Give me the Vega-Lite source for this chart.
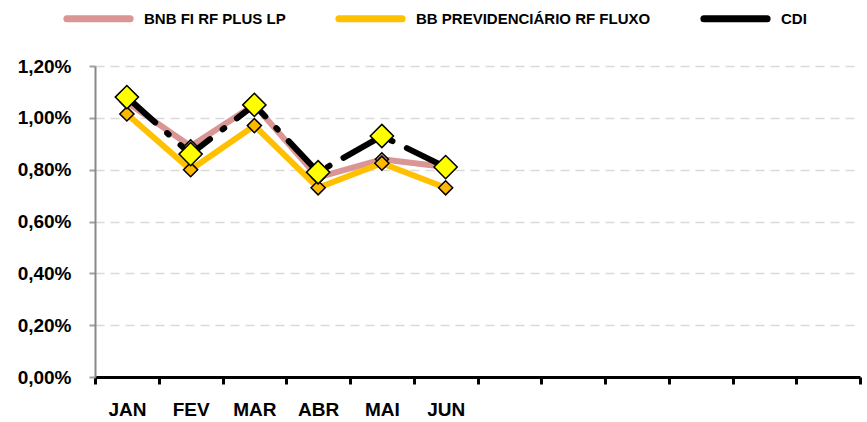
{
  "$schema": "https://vega.github.io/schema/vega-lite/v6.json",
  "width": 765,
  "height": 311,
  "autosize": {"type": "none"},
  "padding": {"left": 95, "top": 66, "right": 7, "bottom": 45},
  "background": "white",
  "config": {
    "view": {"stroke": null},
    "font": "Liberation Sans"
  },
  "data": {
    "values": [
      {"mes": "JAN", "serie": "BNB FI RF PLUS LP", "valor": 0.0106},
      {"mes": "FEV", "serie": "BNB FI RF PLUS LP", "valor": 0.0089},
      {"mes": "MAR", "serie": "BNB FI RF PLUS LP", "valor": 0.0105},
      {"mes": "ABR", "serie": "BNB FI RF PLUS LP", "valor": 0.0077},
      {"mes": "MAI", "serie": "BNB FI RF PLUS LP", "valor": 0.0084},
      {"mes": "JUN", "serie": "BNB FI RF PLUS LP", "valor": 0.0081},
      {"mes": "JAN", "serie": "BB PREVIDENCIÁRIO RF FLUXO", "valor": 0.01015},
      {"mes": "FEV", "serie": "BB PREVIDENCIÁRIO RF FLUXO", "valor": 0.0080},
      {"mes": "MAR", "serie": "BB PREVIDENCIÁRIO RF FLUXO", "valor": 0.0097},
      {"mes": "ABR", "serie": "BB PREVIDENCIÁRIO RF FLUXO", "valor": 0.0073},
      {"mes": "MAI", "serie": "BB PREVIDENCIÁRIO RF FLUXO", "valor": 0.00825},
      {"mes": "JUN", "serie": "BB PREVIDENCIÁRIO RF FLUXO", "valor": 0.0073},
      {"mes": "JAN", "serie": "CDI", "valor": 0.0108},
      {"mes": "FEV", "serie": "CDI", "valor": 0.0086},
      {"mes": "MAR", "serie": "CDI", "valor": 0.0105},
      {"mes": "ABR", "serie": "CDI", "valor": 0.0079},
      {"mes": "MAI", "serie": "CDI", "valor": 0.0093},
      {"mes": "JUN", "serie": "CDI", "valor": 0.0081}
    ]
  },
  "encoding": {
    "x": {
      "field": "mes",
      "type": "nominal",
      "sort": null,
      "scale": {"domain": ["JAN","FEV","MAR","ABR","MAI","JUN","JUL","AGO","SET","OUT","NOV","DEZ"], "paddingInner": 0, "paddingOuter": 0},
      "axis": {
        "title": null,
        "labelAngle": 0,
        "labelExpr": "indexof(['JAN','FEV','MAR','ABR','MAI','JUN'], datum.value) >= 0 ? datum.value : ''",
        "labelFont": "Liberation Sans",
        "labelFontWeight": "bold",
        "labelFontSize": 19,
        "labelColor": "black",
        "labelPadding": 16,
        "tickBand": "extent",
        "tickColor": "black",
        "tickWidth": 3,
        "tickSize": 7,
        "domainColor": "black",
        "domainWidth": 3,
        "grid": false
      }
    },
    "y": {
      "field": "valor",
      "type": "quantitative",
      "scale": {"domain": [0, 0.012], "nice": false, "zero": true},
      "axis": {
        "title": null,
        "values": [0, 0.002, 0.004, 0.006, 0.008, 0.010, 0.012],
        "labelExpr": "replace(format(datum.value, '.2%'), '.', ',')",
        "labelFont": "Liberation Sans",
        "labelFontWeight": "bold",
        "labelFontSize": 19,
        "labelColor": "black",
        "labelPadding": 18,
        "tickColor": "#a0a0a0",
        "tickSize": 6,
        "tickWidth": 2,
        "domainColor": "#888888",
        "domainWidth": 2,
        "grid": true,
        "gridColor": "#d9d9d9",
        "gridWidth": 1.5,
        "gridDash": [9, 6]
      }
    },
    "color": {
      "field": "serie",
      "type": "nominal",
      "sort": null,
      "scale": {"domain": ["BNB FI RF PLUS LP", "BB PREVIDENCIÁRIO RF FLUXO", "CDI"], "range": ["#d99694", "#ffc000", "#000000"]},
      "legend": {
        "title": null,
        "orient": "none",
        "legendX": -32,
        "legendY": -83,
        "direction": "horizontal",
        "columns": 3,
        "columnPadding": 38,
        "symbolType": "M-1,0L1,0",
        "symbolStrokeWidth": 7,
        "symbolSize": 4000,
        "labelFont": "Liberation Sans",
        "labelFontWeight": "bold",
        "labelFontSize": 15,
        "labelColor": "black",
        "labelOffset": 10,
        "labelLimit": 400,
        "encode": {
          "symbols": {
            "update": {
              "size": {"value": 4000},
              "shape": {"value": "M-1,0L1,0"},
              "strokeWidth": {"value": 7},
              "strokeCap": {"value": "round"}
            }
          }
        }
      }
    }
  },
  "layer": [
    {
      "transform": [{"filter": "datum.serie !== 'CDI'"}],
      "mark": {"type": "line", "strokeWidth": 6, "strokeCap": "butt", "strokeJoin": "round"}
    },
    {
      "transform": [{"filter": "datum.serie === 'CDI'"}],
      "mark": {"type": "line", "strokeWidth": 6, "strokeCap": "round", "strokeJoin": "round", "strokeDash": [38, 16, 2, 16]}
    },
    {
      "transform": [{"filter": "datum.serie === 'BNB FI RF PLUS LP'"}],
      "mark": {"type": "point", "shape": "diamond", "filled": true, "fill": "#d99694", "stroke": "black", "strokeWidth": 1.5, "opacity": 1, "size": 170}
    },
    {
      "transform": [{"filter": "datum.serie === 'BB PREVIDENCIÁRIO RF FLUXO'"}],
      "mark": {"type": "point", "shape": "diamond", "filled": true, "fill": "#ffb800", "stroke": "black", "strokeWidth": 1.5, "opacity": 1, "size": 200}
    },
    {
      "transform": [{"filter": "datum.serie === 'CDI'"}],
      "mark": {"type": "point", "shape": "diamond", "filled": true, "fill": "#ffff00", "stroke": "black", "strokeWidth": 1.5, "opacity": 1, "size": 540}
    }
  ]
}
